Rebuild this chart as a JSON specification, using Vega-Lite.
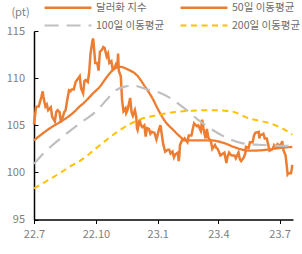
{
  "$schema": "https://vega.github.io/schema/vega-lite/v6.json",
  "width": 259,
  "height": 188.5,
  "autosize": {"type": "none"},
  "padding": {"left": 34, "top": 31, "right": 9, "bottom": 34.5},
  "config": {"view": {"stroke": null}, "font": "Noto Sans CJK KR", "axis": {"grid": false}},
  "datasets": {
    "idx": [
      {"date": "2022-07-01", "series": "달러화 지수", "value": 105.1},
      {"date": "2022-07-04", "series": "달러화 지수", "value": 106.9},
      {"date": "2022-07-06", "series": "달러화 지수", "value": 107.0},
      {"date": "2022-07-08", "series": "달러화 지수", "value": 107.0},
      {"date": "2022-07-12", "series": "달러화 지수", "value": 108.0},
      {"date": "2022-07-14", "series": "달러화 지수", "value": 108.6},
      {"date": "2022-07-15", "series": "달러화 지수", "value": 108.0},
      {"date": "2022-07-18", "series": "달러화 지수", "value": 107.0},
      {"date": "2022-07-20", "series": "달러화 지수", "value": 107.2},
      {"date": "2022-07-22", "series": "달러화 지수", "value": 106.6},
      {"date": "2022-07-26", "series": "달러화 지수", "value": 106.9},
      {"date": "2022-07-28", "series": "달러화 지수", "value": 105.9},
      {"date": "2022-08-01", "series": "달러화 지수", "value": 105.4},
      {"date": "2022-08-03", "series": "달러화 지수", "value": 106.4},
      {"date": "2022-08-05", "series": "달러화 지수", "value": 106.6},
      {"date": "2022-08-08", "series": "달러화 지수", "value": 106.4},
      {"date": "2022-08-10", "series": "달러화 지수", "value": 105.3},
      {"date": "2022-08-12", "series": "달러화 지수", "value": 105.7},
      {"date": "2022-08-15", "series": "달러화 지수", "value": 106.4},
      {"date": "2022-08-17", "series": "달러화 지수", "value": 106.6},
      {"date": "2022-08-19", "series": "달러화 지수", "value": 107.5},
      {"date": "2022-08-22", "series": "달러화 지수", "value": 108.7},
      {"date": "2022-08-24", "series": "달러화 지수", "value": 108.6},
      {"date": "2022-08-26", "series": "달러화 지수", "value": 108.8},
      {"date": "2022-08-29", "series": "달러화 지수", "value": 108.8},
      {"date": "2022-09-01", "series": "달러화 지수", "value": 109.6},
      {"date": "2022-09-05", "series": "달러화 지수", "value": 110.0},
      {"date": "2022-09-07", "series": "달러화 지수", "value": 110.2},
      {"date": "2022-09-09", "series": "달러화 지수", "value": 108.9},
      {"date": "2022-09-12", "series": "달러화 지수", "value": 108.4},
      {"date": "2022-09-14", "series": "달러화 지수", "value": 109.7},
      {"date": "2022-09-16", "series": "달러화 지수", "value": 109.8},
      {"date": "2022-09-19", "series": "달러화 지수", "value": 109.6},
      {"date": "2022-09-21", "series": "달러화 지수", "value": 110.6},
      {"date": "2022-09-23", "series": "달러화 지수", "value": 112.6},
      {"date": "2022-09-26", "series": "달러화 지수", "value": 114.0},
      {"date": "2022-09-27", "series": "달러화 지수", "value": 114.2},
      {"date": "2022-09-29", "series": "달러화 지수", "value": 112.5},
      {"date": "2022-09-30", "series": "달러화 지수", "value": 111.6},
      {"date": "2022-10-03", "series": "달러화 지수", "value": 111.6},
      {"date": "2022-10-05", "series": "달러화 지수", "value": 110.8},
      {"date": "2022-10-07", "series": "달러화 지수", "value": 112.8},
      {"date": "2022-10-10", "series": "달러화 지수", "value": 113.0},
      {"date": "2022-10-12", "series": "달러화 지수", "value": 113.3},
      {"date": "2022-10-14", "series": "달러화 지수", "value": 113.2},
      {"date": "2022-10-17", "series": "달러화 지수", "value": 112.3},
      {"date": "2022-10-19", "series": "달러화 지수", "value": 112.6},
      {"date": "2022-10-21", "series": "달러화 지수", "value": 111.6},
      {"date": "2022-10-24", "series": "달러화 지수", "value": 111.8},
      {"date": "2022-10-26", "series": "달러화 지수", "value": 110.9},
      {"date": "2022-10-28", "series": "달러화 지수", "value": 111.0},
      {"date": "2022-10-31", "series": "달러화 지수", "value": 111.5},
      {"date": "2022-11-02", "series": "달러화 지수", "value": 111.3},
      {"date": "2022-11-03", "series": "달러화 지수", "value": 112.6},
      {"date": "2022-11-04", "series": "달러화 지수", "value": 110.8},
      {"date": "2022-11-07", "series": "달러화 지수", "value": 110.2},
      {"date": "2022-11-09", "series": "달러화 지수", "value": 107.6},
      {"date": "2022-11-11", "series": "달러화 지수", "value": 106.5},
      {"date": "2022-11-14", "series": "달러화 지수", "value": 106.8},
      {"date": "2022-11-15", "series": "달러화 지수", "value": 106.3},
      {"date": "2022-11-17", "series": "달러화 지수", "value": 106.6},
      {"date": "2022-11-21", "series": "달러화 지수", "value": 107.9},
      {"date": "2022-11-23", "series": "달러화 지수", "value": 106.4},
      {"date": "2022-11-25", "series": "달러화 지수", "value": 106.0},
      {"date": "2022-11-28", "series": "달러화 지수", "value": 106.6},
      {"date": "2022-11-30", "series": "달러화 지수", "value": 105.9},
      {"date": "2022-12-01", "series": "달러화 지수", "value": 104.7},
      {"date": "2022-12-02", "series": "달러화 지수", "value": 104.5},
      {"date": "2022-12-05", "series": "달러화 지수", "value": 105.6},
      {"date": "2022-12-07", "series": "달러화 지수", "value": 105.0},
      {"date": "2022-12-09", "series": "달러화 지수", "value": 104.8},
      {"date": "2022-12-12", "series": "달러화 지수", "value": 105.0},
      {"date": "2022-12-14", "series": "달러화 지수", "value": 103.8},
      {"date": "2022-12-16", "series": "달러화 지수", "value": 104.7},
      {"date": "2022-12-19", "series": "달러화 지수", "value": 104.6},
      {"date": "2022-12-21", "series": "달러화 지수", "value": 104.1},
      {"date": "2022-12-23", "series": "달러화 지수", "value": 104.3},
      {"date": "2022-12-27", "series": "달러화 지수", "value": 104.2},
      {"date": "2022-12-30", "series": "달러화 지수", "value": 103.5},
      {"date": "2023-01-03", "series": "달러화 지수", "value": 104.6},
      {"date": "2023-01-05", "series": "달러화 지수", "value": 105.0},
      {"date": "2023-01-09", "series": "달러화 지수", "value": 103.0},
      {"date": "2023-01-12", "series": "달러화 지수", "value": 102.2},
      {"date": "2023-01-16", "series": "달러화 지수", "value": 102.4},
      {"date": "2023-01-18", "series": "달러화 지수", "value": 102.4},
      {"date": "2023-01-20", "series": "달러화 지수", "value": 102.0},
      {"date": "2023-01-23", "series": "달러화 지수", "value": 102.2},
      {"date": "2023-01-25", "series": "달러화 지수", "value": 101.6},
      {"date": "2023-01-27", "series": "달러화 지수", "value": 101.9},
      {"date": "2023-01-31", "series": "달러화 지수", "value": 102.1},
      {"date": "2023-02-01", "series": "달러화 지수", "value": 101.2},
      {"date": "2023-02-02", "series": "달러화 지수", "value": 101.7},
      {"date": "2023-02-03", "series": "달러화 지수", "value": 102.9},
      {"date": "2023-02-06", "series": "달러화 지수", "value": 103.4},
      {"date": "2023-02-08", "series": "달러화 지수", "value": 103.4},
      {"date": "2023-02-10", "series": "달러화 지수", "value": 103.6},
      {"date": "2023-02-14", "series": "달러화 지수", "value": 103.2},
      {"date": "2023-02-16", "series": "달러화 지수", "value": 103.9},
      {"date": "2023-02-20", "series": "달러화 지수", "value": 103.9},
      {"date": "2023-02-22", "series": "달러화 지수", "value": 104.6},
      {"date": "2023-02-24", "series": "달러화 지수", "value": 105.2},
      {"date": "2023-02-28", "series": "달러화 지수", "value": 104.9},
      {"date": "2023-03-02", "series": "달러화 지수", "value": 105.0},
      {"date": "2023-03-06", "series": "달러화 지수", "value": 104.4},
      {"date": "2023-03-08", "series": "달러화 지수", "value": 105.6},
      {"date": "2023-03-10", "series": "달러화 지수", "value": 104.6},
      {"date": "2023-03-13", "series": "달러화 지수", "value": 103.6},
      {"date": "2023-03-15", "series": "달러화 지수", "value": 104.6},
      {"date": "2023-03-17", "series": "달러화 지수", "value": 103.7},
      {"date": "2023-03-21", "series": "달러화 지수", "value": 103.3},
      {"date": "2023-03-23", "series": "달러화 지수", "value": 102.5},
      {"date": "2023-03-27", "series": "달러화 지수", "value": 102.9},
      {"date": "2023-03-29", "series": "달러화 지수", "value": 102.6},
      {"date": "2023-03-31", "series": "달러화 지수", "value": 102.5},
      {"date": "2023-04-04", "series": "달러화 지수", "value": 101.8},
      {"date": "2023-04-06", "series": "달러화 지수", "value": 101.9},
      {"date": "2023-04-10", "series": "달러화 지수", "value": 102.1},
      {"date": "2023-04-13", "series": "달러화 지수", "value": 101.0},
      {"date": "2023-04-14", "series": "달러화 지수", "value": 101.5},
      {"date": "2023-04-17", "series": "달러화 지수", "value": 102.1},
      {"date": "2023-04-19", "series": "달러화 지수", "value": 101.9},
      {"date": "2023-04-21", "series": "달러화 지수", "value": 101.8},
      {"date": "2023-04-25", "series": "달러화 지수", "value": 101.8},
      {"date": "2023-04-27", "series": "달러화 지수", "value": 101.5},
      {"date": "2023-05-01", "series": "달러화 지수", "value": 102.1},
      {"date": "2023-05-03", "series": "달러화 지수", "value": 101.4},
      {"date": "2023-05-05", "series": "달러화 지수", "value": 101.2},
      {"date": "2023-05-09", "series": "달러화 지수", "value": 101.6},
      {"date": "2023-05-11", "series": "달러화 지수", "value": 102.0},
      {"date": "2023-05-12", "series": "달러화 지수", "value": 102.7},
      {"date": "2023-05-16", "series": "달러화 지수", "value": 102.6},
      {"date": "2023-05-18", "series": "달러화 지수", "value": 103.2},
      {"date": "2023-05-22", "series": "달러화 지수", "value": 103.2},
      {"date": "2023-05-24", "series": "달러화 지수", "value": 103.9},
      {"date": "2023-05-26", "series": "달러화 지수", "value": 104.2},
      {"date": "2023-05-31", "series": "달러화 지수", "value": 104.3},
      {"date": "2023-06-01", "series": "달러화 지수", "value": 103.6},
      {"date": "2023-06-02", "series": "달러화 지수", "value": 104.0},
      {"date": "2023-06-05", "series": "달러화 지수", "value": 104.0},
      {"date": "2023-06-07", "series": "달러화 지수", "value": 104.1},
      {"date": "2023-06-09", "series": "달러화 지수", "value": 103.6},
      {"date": "2023-06-12", "series": "달러화 지수", "value": 103.6},
      {"date": "2023-06-14", "series": "달러화 지수", "value": 103.0},
      {"date": "2023-06-16", "series": "달러화 지수", "value": 102.3},
      {"date": "2023-06-19", "series": "달러화 지수", "value": 102.4},
      {"date": "2023-06-21", "series": "달러화 지수", "value": 102.5},
      {"date": "2023-06-23", "series": "달러화 지수", "value": 102.9},
      {"date": "2023-06-26", "series": "달러화 지수", "value": 102.7},
      {"date": "2023-06-28", "series": "달러화 지수", "value": 103.0},
      {"date": "2023-06-30", "series": "달러화 지수", "value": 102.9},
      {"date": "2023-07-03", "series": "달러화 지수", "value": 102.9},
      {"date": "2023-07-05", "series": "달러화 지수", "value": 103.3},
      {"date": "2023-07-07", "series": "달러화 지수", "value": 102.3},
      {"date": "2023-07-10", "series": "달러화 지수", "value": 101.8},
      {"date": "2023-07-12", "series": "달러화 지수", "value": 100.5},
      {"date": "2023-07-13", "series": "달러화 지수", "value": 99.8},
      {"date": "2023-07-14", "series": "달러화 지수", "value": 99.9},
      {"date": "2023-07-17", "series": "달러화 지수", "value": 99.9},
      {"date": "2023-07-18", "series": "달러화 지수", "value": 99.9},
      {"date": "2023-07-19", "series": "달러화 지수", "value": 100.3},
      {"date": "2023-07-20", "series": "달러화 지수", "value": 100.8}
    ],
    "ma": [
      {"date": "2022-07-01", "series": "50일 이동평균", "value": 103.4},
      {"date": "2022-07-25", "series": "50일 이동평균", "value": 104.7},
      {"date": "2022-08-10", "series": "50일 이동평균", "value": 105.4},
      {"date": "2022-08-28", "series": "50일 이동평균", "value": 106.3},
      {"date": "2022-09-07", "series": "50일 이동평균", "value": 107.0},
      {"date": "2022-09-12", "series": "50일 이동평균", "value": 107.3},
      {"date": "2022-09-27", "series": "50일 이동평균", "value": 108.4},
      {"date": "2022-10-07", "series": "50일 이동평균", "value": 109.1},
      {"date": "2022-10-14", "series": "50일 이동평균", "value": 109.8},
      {"date": "2022-10-24", "series": "50일 이동평균", "value": 110.7},
      {"date": "2022-10-29", "series": "50일 이동평균", "value": 111.0},
      {"date": "2022-11-06", "series": "50일 이동평균", "value": 111.2},
      {"date": "2022-11-18", "series": "50일 이동평균", "value": 110.9},
      {"date": "2022-12-01", "series": "50일 이동평균", "value": 110.3},
      {"date": "2022-12-13", "series": "50일 이동평균", "value": 109.1},
      {"date": "2022-12-23", "series": "50일 이동평균", "value": 108.0},
      {"date": "2023-01-02", "series": "50일 이동평균", "value": 106.6},
      {"date": "2023-01-12", "series": "50일 이동평균", "value": 105.4},
      {"date": "2023-01-24", "series": "50일 이동평균", "value": 104.5},
      {"date": "2023-02-03", "series": "50일 이동평균", "value": 103.8},
      {"date": "2023-02-11", "series": "50일 이동평균", "value": 103.4},
      {"date": "2023-03-20", "series": "50일 이동평균", "value": 103.4},
      {"date": "2023-04-10", "series": "50일 이동평균", "value": 103.1},
      {"date": "2023-04-24", "series": "50일 이동평균", "value": 102.7},
      {"date": "2023-05-18", "series": "50일 이동평균", "value": 102.3},
      {"date": "2023-06-12", "series": "50일 이동평균", "value": 102.4},
      {"date": "2023-07-02", "series": "50일 이동평균", "value": 102.6},
      {"date": "2023-07-20", "series": "50일 이동평균", "value": 102.7},
      {"date": "2022-07-01", "series": "100일 이동평균", "value": 100.9},
      {"date": "2022-07-15", "series": "100일 이동평균", "value": 102.0},
      {"date": "2022-08-13", "series": "100일 이동평균", "value": 103.8},
      {"date": "2022-09-07", "series": "100일 이동평균", "value": 105.2},
      {"date": "2022-09-30", "series": "100일 이동평균", "value": 106.4},
      {"date": "2022-10-17", "series": "100일 이동평균", "value": 107.7},
      {"date": "2022-10-27", "series": "100일 이동평균", "value": 108.5},
      {"date": "2022-11-13", "series": "100일 이동평균", "value": 109.1},
      {"date": "2022-11-26", "series": "100일 이동평균", "value": 109.2},
      {"date": "2022-12-16", "series": "100일 이동평균", "value": 108.8},
      {"date": "2023-01-02", "series": "100일 이동평균", "value": 108.5},
      {"date": "2023-01-19", "series": "100일 이동평균", "value": 107.9},
      {"date": "2023-02-13", "series": "100일 이동평균", "value": 106.6},
      {"date": "2023-03-05", "series": "100일 이동평균", "value": 105.4},
      {"date": "2023-03-17", "series": "100일 이동평균", "value": 104.8},
      {"date": "2023-04-07", "series": "100일 이동평균", "value": 103.9},
      {"date": "2023-05-06", "series": "100일 이동평균", "value": 103.1},
      {"date": "2023-06-07", "series": "100일 이동평균", "value": 102.9},
      {"date": "2023-07-20", "series": "100일 이동평균", "value": 102.8},
      {"date": "2022-07-01", "series": "200일 이동평균", "value": 98.3},
      {"date": "2022-08-08", "series": "200일 이동평균", "value": 99.9},
      {"date": "2022-08-23", "series": "200일 이동평균", "value": 100.6},
      {"date": "2022-09-07", "series": "200일 이동평균", "value": 101.2},
      {"date": "2022-10-02", "series": "200일 이동평균", "value": 102.6},
      {"date": "2022-10-09", "series": "200일 이동평균", "value": 103.0},
      {"date": "2022-11-06", "series": "200일 이동평균", "value": 104.5},
      {"date": "2022-12-05", "series": "200일 이동평균", "value": 105.6},
      {"date": "2023-01-02", "series": "200일 이동평균", "value": 106.1},
      {"date": "2023-01-27", "series": "200일 이동평균", "value": 106.4},
      {"date": "2023-03-20", "series": "200일 이동평균", "value": 106.6},
      {"date": "2023-04-18", "series": "200일 이동평균", "value": 106.5},
      {"date": "2023-05-18", "series": "200일 이동평균", "value": 105.7},
      {"date": "2023-06-17", "series": "200일 이동평균", "value": 105.2},
      {"date": "2023-07-14", "series": "200일 이동평균", "value": 104.3},
      {"date": "2023-07-20", "series": "200일 이동평균", "value": 104.0}
    ]
  },
  "encoding": {
    "x": {
      "field": "date", "type": "temporal",
      "scale": {"domain": [{"year": 2022, "month": 7, "date": 1}, {"year": 2023, "month": 7, "date": 21}]},
      "axis": {
        "title": null,
        "values": [{"year": 2022, "month": 7, "date": 1}, {"year": 2022, "month": 10, "date": 1}, {"year": 2023, "month": 1, "date": 1}, {"year": 2023, "month": 4, "date": 1}, {"year": 2023, "month": 7, "date": 1}],
        "format": "%y.%-m",
        "labelFlush": false,
        "labelColor": "#808080", "labelFontSize": 11, "labelPadding": 5,
        "tickSize": 4, "tickColor": "#000000", "tickWidth": 1,
        "domainColor": "#000000", "domainWidth": 1.5
      }
    },
    "y": {
      "field": "value", "type": "quantitative",
      "scale": {"domain": [95, 115], "nice": false, "zero": false},
      "axis": {
        "title": "(pt)", "titleAngle": 0, "titleX": -14, "titleY": -19, "titleAlign": "center", "titleBaseline": "middle",
        "titleFontSize": 11, "titleFontWeight": "normal", "titleColor": "#808080",
        "values": [95, 100, 105, 110, 115],
        "labelColor": "#808080", "labelFontSize": 11, "labelPadding": 13.5,
        "tickSize": -4, "tickColor": "#000000", "tickWidth": 1,
        "domainColor": "#000000", "domainWidth": 1.5
      }
    },
    "color": {
      "field": "series", "type": "nominal",
      "scale": {"domain": ["달러화 지수", "50일 이동평균", "100일 이동평균", "200일 이동평균"], "range": ["#ED7D31", "#ED7D31", "#BFBFBF", "#FFC000"]},
      "legend": {
        "title": null, "orient": "none", "direction": "horizontal", "legendX": 28, "legendY": -29.5, "columns": 2, "padding": 0,
        "symbolType": "M-5,0H5", "symbolSize": 88, "symbolStrokeWidth": 3,
        "labelOffset": 22, "columnPadding": 10, "rowPadding": 6,
        "labelFontSize": 10.5, "labelColor": "#6b6b6b", "labelFont": "Noto Sans CJK KR",
        "encode": {"symbols": {"update": {"strokeWidth": {"signal": "datum.value === '100일 이동평균' ? 4 : datum.value === '200일 이동평균' ? 1.6 : 3"}}}}
      }
    },
    "strokeDash": {
      "field": "series", "type": "nominal",
      "scale": {"domain": ["달러화 지수", "50일 이동평균", "100일 이동평균", "200일 이동평균"], "range": [[1, 0], [1, 0], [14, 8], [6, 4.5]]},
      "legend": {
        "title": null, "orient": "none", "direction": "horizontal", "legendX": 28, "legendY": -29.5, "columns": 2, "padding": 0,
        "symbolType": "M-5,0H5", "symbolSize": 88, "symbolStrokeWidth": 3,
        "labelOffset": 22, "columnPadding": 10, "rowPadding": 6,
        "labelFontSize": 10.5, "labelColor": "#6b6b6b", "labelFont": "Noto Sans CJK KR",
        "encode": {"symbols": {"update": {"strokeWidth": {"signal": "datum.value === '100일 이동평균' ? 4 : datum.value === '200일 이동평균' ? 1.6 : 3"}}}}
      }
    }
  },
  "layer": [
    {"data": {"name": "idx"}, "mark": {"type": "line", "strokeWidth": 2.5}},
    {
      "data": {"name": "ma"},
      "mark": {"type": "line", "interpolate": "monotone"},
      "encoding": {
        "strokeWidth": {
          "field": "series", "type": "nominal",
          "scale": {"domain": ["달러화 지수", "50일 이동평균", "100일 이동평균", "200일 이동평균"], "range": [2.5, 2, 4, 1.6]},
          "legend": null
        }
      }
    }
  ]
}
